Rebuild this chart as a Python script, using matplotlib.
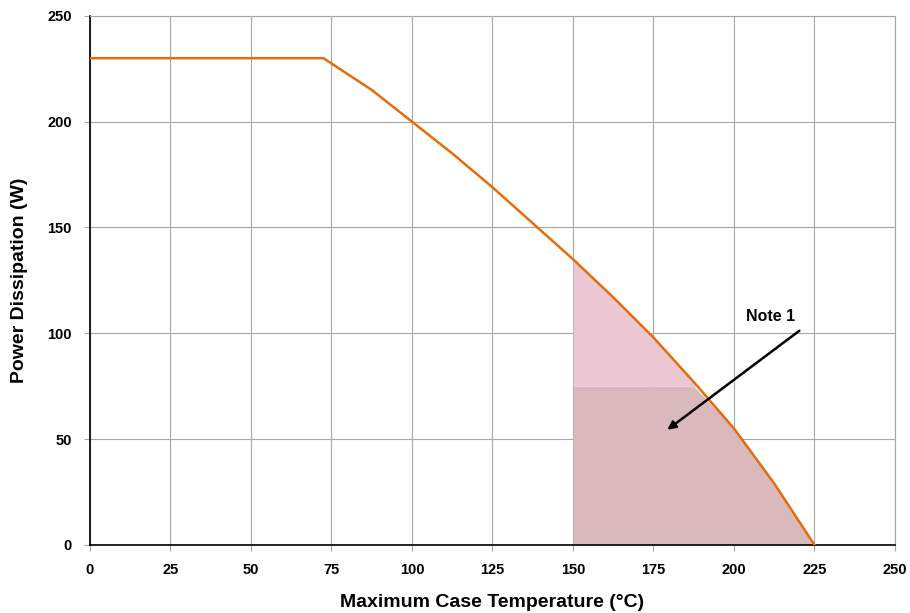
"""
Power dissipation derating curve vs maximum case temperature
"""

import matplotlib
matplotlib.use("Agg")
import matplotlib.pyplot as plt
import numpy as np

plt.rcParams['font.family'] = ['Liberation Sans', 'DejaVu Sans']

# derating curve
case_temp = [0, 72.5, 87.5, 100, 112.5, 125, 137.5, 150, 162.5, 175, 187.5, 200, 212.5, 225]
power = [230, 230, 215, 200, 185, 169, 152, 135, 117, 98, 77, 55, 29, 0]

# shaded region under curve (Note 1)
shade_start = 150
shade_split = 75

xticks = [0, 25, 50, 75, 100, 125, 150, 175, 200, 225, 250]
yticks = [0, 50, 100, 150, 200, 250]

note_text = "Note 1"
note_xy = (178.6, 53.6)
note_from = (221, 102)
note_label_pos = (211.5, 108)

fig = plt.figure(figsize=(9.1, 6.13), dpi=100)
ax = fig.add_axes([0.0989, 0.1111, 0.8846, 0.8630])

t = np.array(case_temp)
p = np.array(power)
mask = t >= shade_start
ax.fill_between(t[mask], 0, np.minimum(p[mask], shade_split),
                color='#d9b9bb', zorder=1, linewidth=0)
ax.fill_between(t[mask], shade_split, p[mask], where=p[mask] >= shade_split,
                interpolate=True, color='#e9c7d3', zorder=1, linewidth=0)

ax.plot(case_temp, power, color='#e46c0a', linewidth=1.8, zorder=3)

ax.annotate("", xy=note_xy, xytext=note_from,
            arrowprops=dict(arrowstyle='-|>', color='black', lw=1.8,
                            mutation_scale=12), zorder=4)
ax.text(note_label_pos[0], note_label_pos[1], note_text, fontsize=11.5,
        fontweight='bold', ha='center', va='center')

ax.set_xlim(0, 250)
ax.set_ylim(0, 250)
ax.set_xticks(xticks)
ax.set_yticks(yticks)
ax.grid(True, color='#a6a6a6', linewidth=0.8, zorder=0)
ax.set_axisbelow(True)

for side in ['top', 'right']:
    ax.spines[side].set_color('#a6a6a6')
    ax.spines[side].set_linewidth(0.8)
for side in ['left', 'bottom']:
    ax.spines[side].set_color('black')
    ax.spines[side].set_linewidth(1.2)

ax.tick_params(axis='both', direction='out', length=4, color='#a6a6a6',
               labelsize=10.5, pad=9)
for lbl in ax.get_xticklabels() + ax.get_yticklabels():
    lbl.set_fontweight('bold')

ax.set_xlabel("Maximum Case Temperature (°C)", fontsize=14, fontweight='bold',
              labelpad=12)
ax.set_ylabel("Power Dissipation (W)", fontsize=14, fontweight='bold',
              labelpad=14)

fig.savefig("out.png", dpi=100)
